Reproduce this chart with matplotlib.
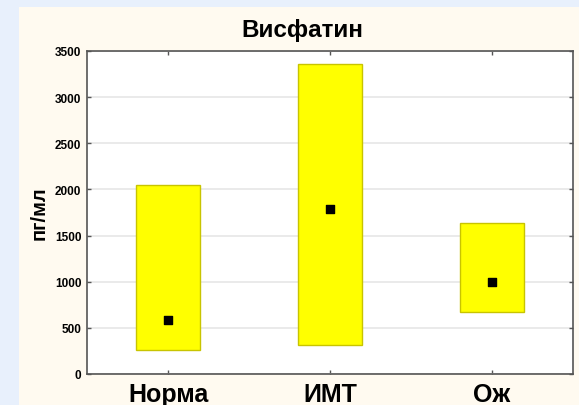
import matplotlib
matplotlib.use("Agg")
import matplotlib.pyplot as plt
from matplotlib.patches import Rectangle

categories = ["Норма", "ИМТ", "Ож"]
lower = [260, 314, 668]
upper = [2045, 3355, 1632]
center = [585, 1788, 997]
yticks = [0, 500, 1000, 1500, 2000, 2500, 3000, 3500]

W, H = 579, 406
fig = plt.figure(figsize=(W / 100, H / 100), dpi=100)
fig.patch.set_facecolor("#e8f0fc")
fig.patches.append(Rectangle((19 / W, 0), 1 - 19 / W, 1 - 8 / H, transform=fig.transFigure,
                             facecolor="#fffaf0", edgecolor="none", zorder=-10))

ax = fig.add_axes([87 / W, 1 - 375 / H, (573 - 87) / W, (375 - 52) / H])
ax.set_facecolor("white")
x = list(range(len(categories)))
for xi, lo, hi in zip(x, lower, upper):
    ax.bar(xi, hi - lo, bottom=lo, width=0.4, color="#ffff00", edgecolor="#c8c400",
           linewidth=1, zorder=3)
ax.scatter(x, center, marker="s", s=26, color="black", zorder=4)

ax.set_xlim(-0.5, 2.5)
ax.set_ylim(0, 3500)
ax.set_yticks(yticks)
ax.set_yticklabels([str(v) for v in yticks], fontfamily="Liberation Sans",
                   fontweight="bold", fontsize=8.5)
ax.set_xticks(x)
ax.set_xticklabels(categories, fontfamily="Liberation Sans", fontweight="bold", fontsize=18)
ax.tick_params(axis="both", direction="in", length=3, width=1, color="#555555",
               top=True, right=True)
ax.tick_params(axis="y", pad=4)
ax.tick_params(axis="x", pad=6)
ax.grid(axis="y", color="#e6e6e6", linewidth=1.2, zorder=0)
ax.set_axisbelow(True)
for s in ax.spines.values():
    s.set_color("#555555")
    s.set_linewidth(1.2)

fig.text(302 / W, 1 - 31 / H, "Висфатин", ha="center", va="center",
         fontfamily="Liberation Sans", fontweight="bold", fontsize=17.5)
fig.text(39 / W, 1 - 213 / H, "пг/мл", ha="center", va="center", rotation=90,
         fontfamily="Liberation Sans", fontweight="bold", fontsize=14.5)

fig.savefig("out.png", dpi=100, facecolor=fig.get_facecolor())
